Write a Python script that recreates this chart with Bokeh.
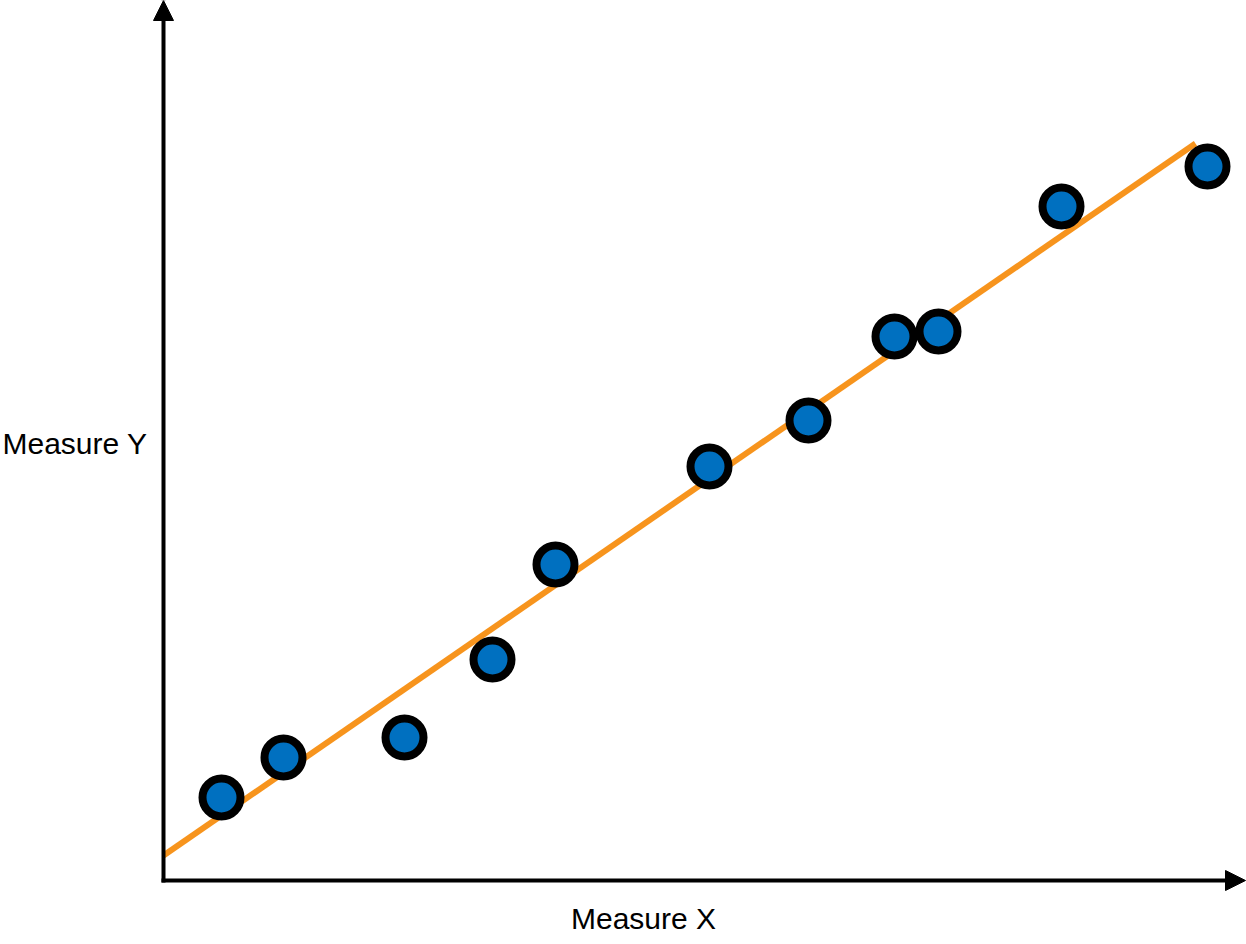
from bokeh.plotting import figure
from bokeh.models import Range1d, Arrow, NormalHead, Label, ColumnDataSource
from bokeh.embed import file_html
from bokeh.resources import INLINE

# Data (arbitrary units)
measure_x = [0.58, 1.20, 2.41, 3.29, 3.92, 5.46, 6.45, 7.31, 7.75, 8.98, 10.44]
measure_y = [0.83, 1.23, 1.43, 2.21, 3.16, 4.14, 4.60, 5.44, 5.49, 6.74, 7.14]
fit_intercept = 0.25
fit_slope = 0.69
fit_x = [0.0, 10.32]
fit_y = [fit_intercept + fit_slope * v for v in fit_x]
x_label = "Measure X"
y_label = "Measure Y"

p = figure(width=1246, height=944, output_backend="svg", toolbar_location=None,
           x_range=Range1d(-1.63, 10.83), y_range=Range1d(-0.64, 8.80),
           min_border=0, x_axis_type=None, y_axis_type=None)
p.grid.visible = False
p.outline_line_color = None
p.background_fill_color = "white"
p.border_fill_color = "white"

# Axes with arrowheads
p.add_layout(Arrow(end=NormalHead(size=20, fill_color="black", line_color="black", line_width=1),
                   x_start=0, y_start=-0.02, x_end=0, y_end=8.80,
                   line_width=4, line_color="black"))
p.add_layout(Arrow(end=NormalHead(size=20, fill_color="black", line_color="black", line_width=1),
                   x_start=-0.02, y_start=0, x_end=10.82, y_end=0,
                   line_width=4, line_color="black"))

# Fit line
p.line(fit_x, fit_y, line_color="#F7941D", line_width=6)

# Points
src = ColumnDataSource(dict(x=measure_x, y=measure_y))
p.scatter("x", "y", source=src, size=38, fill_color="#0070C0",
          line_color="black", line_width=8)

# Axis labels
p.add_layout(Label(x=-1.61, y=4.37, text=y_label, text_align="left",
                   text_baseline="middle", text_font="Liberation Sans",
                   text_font_size="30px", text_color="black"))
p.add_layout(Label(x=4.80, y=-0.38, text=x_label, text_align="center",
                   text_baseline="middle", text_font="Liberation Sans",
                   text_font_size="30px", text_color="black"))

open("out.html", "w").write(file_html(p, INLINE))
